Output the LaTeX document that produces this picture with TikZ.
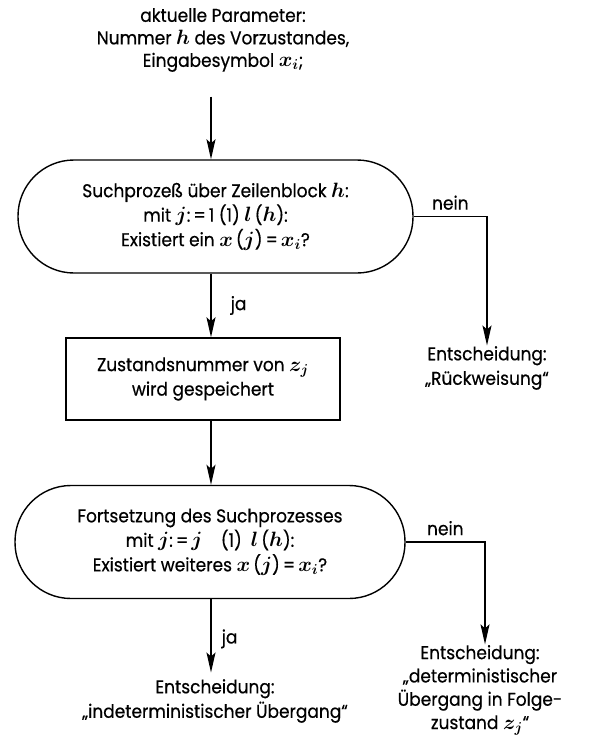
\documentclass[tikz,border=0pt]{standalone}
\usepackage{fontspec}
\setmainfont{Poppins}[FakeStretch=0.92, FakeBold=0.5]
\usetikzlibrary{arrows.meta}

% italic variables, set a little larger and heavier than plain math
\newcommand\mv[1]{{\fontsize{21}{24}\selectfont\boldmath$#1$}}

\tikzset{
  txt/.style={font=\fontsize{18.5}{24.5}\selectfont, align=center, inner sep=0pt},
  stadium/.style={draw, txt, rounded corners=56pt, minimum width=#1, minimum height=113pt},
  procbox/.style={draw, txt, minimum width=274pt, minimum height=82pt},
  lbl/.style={font=\fontsize{18.5}{20}\selectfont, inner sep=0pt},
  arr/.style={-{Stealth[length=20pt,width=9pt,inset=4pt]}},
}

\begin{document}
\begin{tikzpicture}[x=1pt, y=-1pt, line width=1.4pt]
  \useasboundingbox (0,0) rectangle (589,746);

  % columns used by the vertical connectors
  \coordinate (col) at (211,0);
  \coordinate (rcolA) at (487,0);
  \coordinate (rcolB) at (485,0);

  % input parameters
  \node[txt, font=\fontsize{18.5}{22.5}\selectfont] (params) at (223,40)
    {aktuelle Parameter:\\Nummer \mv{h} des Vorzustandes,\\Eingabesymbol \mv{x_i};};

  % first search
  \node[stadium=395pt] (s1) at (215.5,216.5)
    {Suchprozeß über Zeilenblock \mv{h}:\\
     mit \mv{j}:\,=\,1 (1) \mv{l}\,(\mv{h}):\\
     Existiert ein \mv{x}\,(\mv{j})\,=\,\mv{x_i}?};

  % store state number
  \node[procbox] (store) at (203,379)
    {Zustandsnummer von \mv{z_j}\\wird gespeichert};

  % continued search
  \node[stadium=390pt] (s2) at (210,542)
    {Fortsetzung des Suchprozesses\\
     mit \mv{j}:\,=\,\mv{j}\quad(1)\ \ \mv{l}\,(\mv{h}):\\
     Existiert weiteres \mv{x}\,(\mv{j})\,=\,\mv{x_i}?};

  % decisions
  \node[txt] (rej) at (487,368) {Entscheidung:\\„Rückweisung“};
  \node[txt] (ind) at (215,701) {Entscheidung:\\„indeterministischer Übergang“};
  \node[txt, font=\fontsize{18.5}{23.3}\selectfont] (det) at (480,690)
    {Entscheidung:\\„deterministischer\\Übergang in Folge-\\zustand \mv{z_j}“};

  % connectors
  \draw[arr, shorten <=24pt] (params.south -| col) -- (s1.north -| col);
  \draw[arr] (s1.south -| col) -- node[lbl, right=19pt] {ja} (store.north -| col);
  \draw[arr] (s1.east) -| node[lbl, pos=0.25, above=6pt] {nein} (rej.north -| rcolA);
  \draw[arr] (store.south -| col) -- (s2.north -| col);
  \draw[arr, shorten >=6pt] (s2.south -| col) -- node[lbl, right=10pt] {ja} (ind.north -| col);
  \draw[arr] (s2.east) -| node[lbl, pos=0.25, above=6pt] {nein} (det.north -| rcolB);
\end{tikzpicture}
\end{document}
